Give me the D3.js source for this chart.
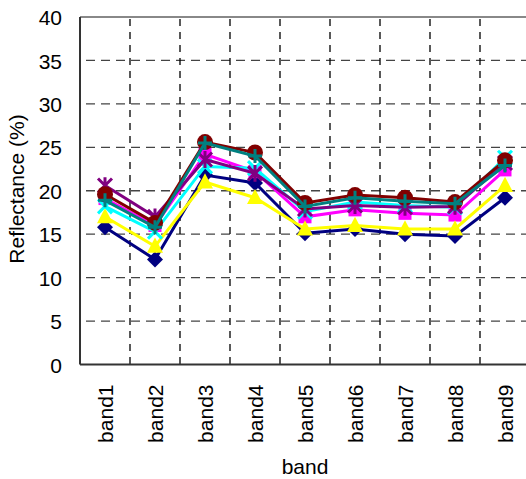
<!DOCTYPE html>
<html>
<head>
<meta charset="utf-8">
<script src="https://cdn.jsdelivr.net/npm/d3@7"></script>
<style>
  html, body { margin: 0; padding: 0; background: #fff; }
  svg text { font-family: "Liberation Sans", Arial, sans-serif; fill: #000; }
</style>
</head>
<body>
<svg id="chart" width="526" height="479"></svg>
<script>
// Spectral reflectance per band
const bands = ["band1", "band2", "band3", "band4", "band5", "band6", "band7", "band8", "band9"];
const yTicks = [0, 5, 10, 15, 20, 25, 30, 35, 40];

const s1 = [15.8, 12.1, 21.8, 20.9, 15.1, 15.6, 15.0, 14.8, 19.2];
const s2 = [19.1, 16.0, 24.2, 22.2, 17.0, 17.8, 17.4, 17.2, 22.4];
const s3 = [17.0, 13.6, 21.0, 19.2, 15.6, 16.0, 15.6, 15.6, 20.6];
const s4 = [18.2, 15.3, 22.8, 22.6, 17.6, 18.7, 18.3, 18.1, 23.8];
const s5 = [20.6, 17.0, 23.6, 22.0, 17.9, 18.3, 18.1, 18.2, 23.2];
const s6 = [19.6, 16.3, 25.6, 24.4, 18.6, 19.5, 19.2, 18.7, 23.5];
const s7 = [18.9, 15.8, 25.5, 24.0, 18.2, 19.2, 18.8, 18.5, 22.9];

const seriesValues = [s1, s2, s3, s4, s5, s6, s7];
const seriesColors = ["#000080", "#ff00ff", "#ffff00", "#00ffff", "#800080", "#800000", "#008080"];
const seriesMarkers = ["diamond", "square", "triangle", "cross", "asterisk", "circle", "plus"];

const svg = d3.select("#chart");
const plotLeft = 80, plotRight = 530, plotTop = 17, plotBottom = 364.5;

const x = d3.scaleBand().domain(bands).range([plotLeft, plotRight]).padding(0);
const y = d3.scaleLinear().domain([0, 40]).range([plotBottom, plotTop]);

// horizontal grid
svg.append("g").selectAll("line")
  .data(yTicks.filter(t => t > 0 && t < 40))
  .join("line")
  .attr("x1", plotLeft).attr("x2", plotRight)
  .attr("y1", d => y(d)).attr("y2", d => y(d))
  .attr("stroke", "#444").attr("stroke-width", 1.3)
  .attr("stroke-dasharray", "9,6")
  .attr("stroke-dashoffset", -6);

// vertical grid at category boundaries
svg.append("g").selectAll("line")
  .data(bands.slice(1))
  .join("line")
  .attr("x1", d => x(d)).attr("x2", d => x(d))
  .attr("y1", plotTop).attr("y2", plotBottom)
  .attr("stroke", "#000").attr("stroke-width", 1.3)
  .attr("stroke-dasharray", "7,6")
  .attr("stroke-dashoffset", -2);

// plot frame
svg.append("line").attr("x1", plotLeft).attr("x2", plotRight).attr("y1", plotTop).attr("y2", plotTop)
  .attr("stroke", "#888").attr("stroke-width", 2);
svg.append("line").attr("x1", plotLeft).attr("x2", plotLeft).attr("y1", plotTop).attr("y2", plotBottom)
  .attr("stroke", "#333").attr("stroke-width", 2);
svg.append("line").attr("x1", plotLeft).attr("x2", plotRight).attr("y1", plotBottom).attr("y2", plotBottom)
  .attr("stroke", "#333").attr("stroke-width", 2);

// y axis labels
const yAxis = d3.axisLeft(y).tickValues(yTicks).tickSize(0).tickPadding(0);
const gy = svg.append("g").attr("transform", `translate(${plotLeft - 18},0)`).call(yAxis);
gy.select(".domain").remove();
gy.selectAll("text").style("font-size", "21px").attr("dy", "0.36em");

// x axis labels (rotated)
const xAxis = d3.axisBottom(x).tickSize(0).tickPadding(0);
const gx = svg.append("g").attr("transform", `translate(0,${plotBottom})`).call(xAxis);
gx.select(".domain").remove();
gx.selectAll("text")
  .style("font-size", "21px")
  .attr("text-anchor", "end")
  .attr("transform", "rotate(-90)")
  .attr("x", -20).attr("y", 0).attr("dy", "0.36em");

// axis titles
svg.append("text").attr("x", (plotLeft + plotRight) / 2).attr("y", 474)
  .attr("text-anchor", "middle").style("font-size", "21px").text("band");
svg.append("text")
  .attr("transform", `translate(24,${189}) rotate(-90)`)
  .attr("text-anchor", "middle").style("font-size", "21px").text("Reflectance (%)");

// series lines and markers
const line = d3.line()
  .x((d, i) => x(bands[i]) + x.bandwidth() / 2)
  .y(d => y(d));

function markerPath(kind, r) {
  switch (kind) {
    case "diamond": return `M0,${-r}L${r},0L0,${r}L${-r},0Z`;
    case "square": return `M${-r},${-r}H${r}V${r}H${-r}Z`;
    case "triangle": return `M0,${-r * 1.1}L${r},${r * 0.8}L${-r},${r * 0.8}Z`;
    case "cross": return `M${-r},${-r}L${r},${r}M${r},${-r}L${-r},${r}`;
    case "plus": return `M${-r},0H${r}M0,${-r}V${r}`;
    case "asterisk": return `M${-r},${-r}L${r},${r}M${r},${-r}L${-r},${r}M0,${-r * 1.2}V${r * 1.2}`;
    default: return "";
  }
}

seriesValues.forEach((vals, si) => {
  const color = seriesColors[si];
  const kind = seriesMarkers[si];
  const g = svg.append("g");
  g.append("path").datum(vals)
    .attr("d", line)
    .attr("fill", "none").attr("stroke", color).attr("stroke-width", 3);
  const pts = g.selectAll("g.pt").data(vals).join("g")
    .attr("transform", (d, i) => `translate(${x(bands[i]) + x.bandwidth() / 2},${y(d)})`);
  if (kind === "circle") {
    pts.append("circle").attr("r", 8).attr("fill", color);
  } else if (kind === "cross" || kind === "plus" || kind === "asterisk") {
    pts.append("path").attr("d", markerPath(kind, 7))
      .attr("fill", "none").attr("stroke", color).attr("stroke-width", 3);
  } else {
    const r = kind === "square" ? 6.5 : 8;
    pts.append("path").attr("d", markerPath(kind, r)).attr("fill", color);
  }
});
</script>
</body>
</html>
